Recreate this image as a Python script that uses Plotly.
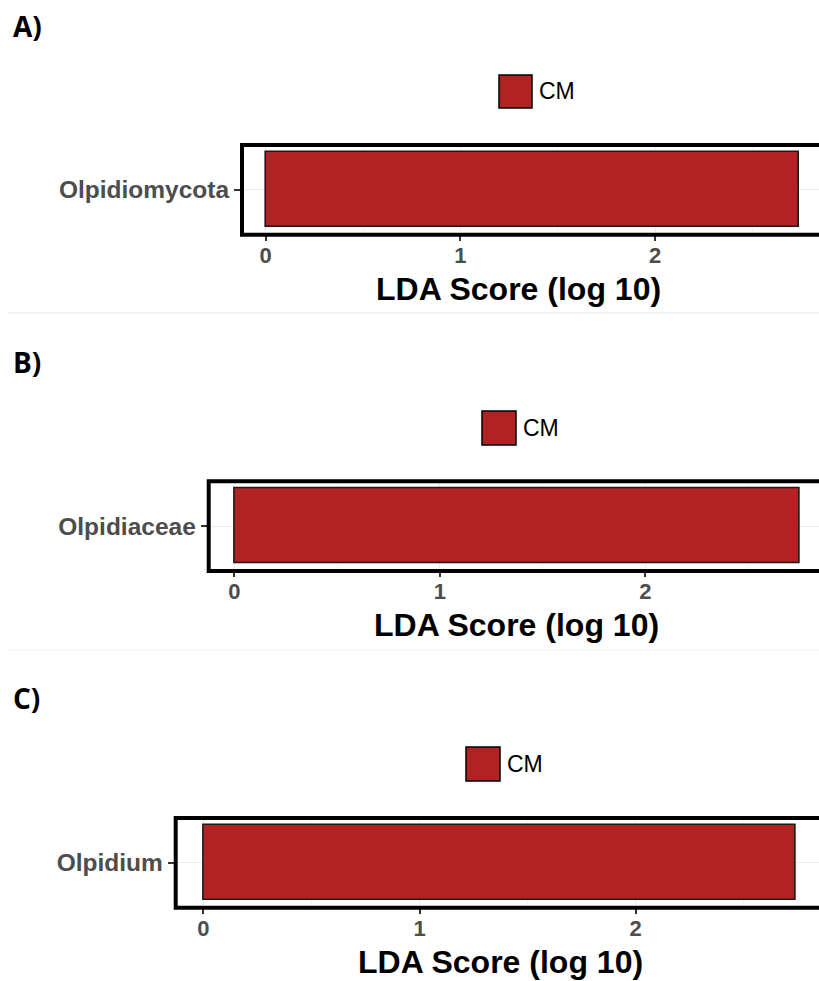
import plotly.graph_objects as go

# LEfSe results: one discriminant taxon per rank, all enriched in group CM
panel_labels = ["A)", "B)", "C)"]
taxa = ["Olpidiomycota", "Olpidiaceae", "Olpidium"]
lda_scores = [2.74, 2.75, 2.74]
group_name = "CM"
x_tick_vals = [0, 1, 2]
x_tick_text = ["0", "1", "2"]
axis_title = "LDA Score (log 10)"

W, H = 819, 981
BAR_COLOR = "#B22222"

# panel geometry in pixels: frame left, frame top, frame bottom, x=0 pixel, px per unit
panels = [
    dict(left=242.0, top=145.0, bottom=234.7, zero=265.7, ppu=194.7,
         legend=(499, 75, 532, 108), title_x=518, label_y=26),
    dict(left=208.7, top=481.3, bottom=571.0, zero=234.3, ppu=205.5,
         legend=(482, 411, 516, 445), title_x=516, label_y=362),
    dict(left=175.7, top=818.0, bottom=907.7, zero=203.3, ppu=216.2,
         legend=(466, 747, 500, 781), title_x=500, label_y=698),
]


def px(x):
    return x / W


def py(y):
    return 1 - y / H


fig = go.Figure()
shapes = []
annotations = []

for i, (p, taxon, score) in enumerate(zip(panels, taxa, lda_scores)):
    n = "" if i == 0 else str(i + 1)
    xa, ya = "x" + n, "y" + n

    fig.add_trace(go.Bar(
        x=[score], y=[taxon], orientation="h", width=0.9,
        marker=dict(color=BAR_COLOR, line=dict(color="#1a1a1a", width=1.6)),
        xaxis=xa, yaxis=ya, showlegend=False, name=group_name,
    ))

    x_lo = -(p["zero"] - p["left"]) / p["ppu"]
    x_hi = (W - p["zero"]) / p["ppu"]

    fig.update_layout({
        "xaxis" + n: dict(
            domain=[px(p["left"]), 1], anchor=ya, range=[x_lo, x_hi],
            tickmode="array", tickvals=x_tick_vals, ticktext=x_tick_text,
            showgrid=True, gridcolor="#EBEBEB", gridwidth=1,
            minor=dict(tickmode="linear", tick0=0.5, dtick=1, showgrid=True,
                       gridcolor="#F4F4F4", gridwidth=1, ticks=""),
            ticks="outside", ticklen=5, tickwidth=1.5, tickcolor="#333333",
            ticklabelstandoff=-4,
            showline=False, zeroline=False,
            tickfont=dict(family="Liberation Sans", size=22, color="#4D4D4D", weight="bold"),
            fixedrange=True,
        ),
        "yaxis" + n: dict(
            domain=[py(p["bottom"]), py(p["top"])], anchor=xa,
            range=[-0.54, 0.54], type="category",
            showgrid=True, gridcolor="#EBEBEB", gridwidth=1,
            ticks="outside", ticklen=7, tickwidth=1.5, tickcolor="#333333",
            showline=False, zeroline=False,
            tickfont=dict(family="Liberation Sans", size=24.5, color="#4D4D4D", weight="bold"),
            fixedrange=True,
        ),
    })

    # panel border, running off the right edge of the page
    shapes.append(dict(type="rect", xref="paper", yref="paper",
                       x0=px(p["left"]), x1=1.03, y0=py(p["bottom"]), y1=py(p["top"]),
                       line=dict(color="black", width=4), layer="above"))

    # legend key
    lx0, ly0, lx1, ly1 = p["legend"]
    shapes.append(dict(type="rect", xref="paper", yref="paper",
                       x0=px(lx0), x1=px(lx1), y0=py(ly1), y1=py(ly0),
                       fillcolor=BAR_COLOR, line=dict(color="black", width=1.5)))
    annotations.append(dict(text=group_name, xref="paper", yref="paper",
                            x=px(lx1 + 5), y=py((ly0 + ly1) / 2),
                            xanchor="left", yanchor="middle", showarrow=False,
                            font=dict(family="Liberation Sans", size=23, color="black")))

    # x-axis title
    annotations.append(dict(text="<b>" + axis_title + "</b>", xref="paper", yref="paper",
                            x=px(p["title_x"]), y=py(p["bottom"] + 54),
                            xanchor="center", yanchor="middle", showarrow=False,
                            font=dict(family="Liberation Sans", size=32, color="black")))

    # panel letter
    annotations.append(dict(text="<b>" + panel_labels[i] + "</b>", xref="paper", yref="paper",
                            x=px(11), y=py(p["label_y"]),
                            xanchor="left", yanchor="middle", showarrow=False,
                            font=dict(family="Open Sans", size=28, color="black")))

# thin separators between panels
shapes.append(dict(type="line", xref="paper", yref="paper", x0=px(8), x1=1,
                   y0=py(313), y1=py(313), line=dict(color="#E6E6E6", width=1)))
shapes.append(dict(type="line", xref="paper", yref="paper", x0=px(8), x1=1,
                   y0=py(650), y1=py(650), line=dict(color="#F4F4F4", width=1)))

fig.update_layout(
    width=W, height=H,
    margin=dict(l=0, r=0, t=0, b=0),
    paper_bgcolor="white", plot_bgcolor="white",
    shapes=shapes, annotations=annotations,
    showlegend=False, bargap=0,
)

fig.write_html("out.html", config={"displayModeBar": False})
